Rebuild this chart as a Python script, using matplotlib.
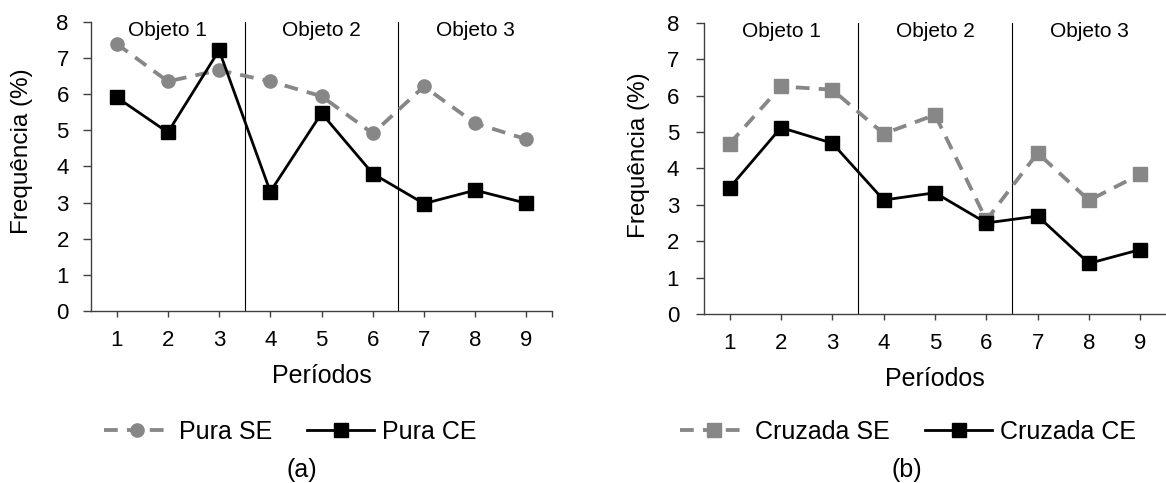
import matplotlib
matplotlib.use('Agg')
import matplotlib.pyplot as plt

plt.rcParams['font.family'] = ['Liberation Sans', 'DejaVu Sans']

periodos = [1, 2, 3, 4, 5, 6, 7, 8, 9]
objetos = ['Objeto 1', 'Objeto 2', 'Objeto 3']

pura_se = [7.39, 6.35, 6.66, 6.35, 5.94, 4.91, 6.21, 5.19, 4.75]
pura_ce = [5.91, 4.94, 7.21, 3.30, 5.47, 3.80, 2.97, 3.34, 2.98]

cruzada_se = [4.68, 6.25, 6.16, 4.95, 5.47, 2.58, 4.42, 3.12, 3.84]
cruzada_ce = [3.47, 5.12, 4.69, 3.13, 3.33, 2.50, 2.69, 1.39, 1.77]

GRAY = '#878787'
AXC = '#404040'

fig = plt.figure(figsize=(11.66, 4.83), dpi=100)
ax1 = fig.add_axes([0.0781, 0.3561, 0.3953, 0.5989])
ax2 = fig.add_axes([0.6038, 0.3499, 0.3962, 0.6031])


def draw_panel(ax, se, ce, se_label, ce_label, se_marker, ypad, ylab_xy, legend_x, tag, tag_x):
    ax.plot(periodos, se, color=GRAY, lw=2.75, dashes=(3.6, 2.4),
            marker=se_marker, ms=9.5, mec=GRAY, mfc=GRAY, label=se_label, zorder=3)
    ax.plot(periodos, ce, color='black', lw=2.0,
            marker='s', ms=9.5, mec='black', mfc='black', label=ce_label, zorder=4)

    ax.axvline(3.5, color='black', lw=0.8, zorder=2)
    ax.axvline(6.5, color='black', lw=0.8, zorder=2)
    for i, nome in enumerate(objetos):
        ax.text(2 + 3 * i, 7.75, nome, ha='center', va='center', fontsize=15)

    ax.set_xlim(0.5, 9.5)
    ax.set_ylim(0, 8)
    ax.set_xticks(periodos)
    ax.set_yticks(range(0, 9))
    ax.spines['top'].set_visible(False)
    ax.spines['right'].set_visible(False)
    for s in ['left', 'bottom']:
        ax.spines[s].set_color(AXC)
        ax.spines[s].set_linewidth(1.0)
    ax.tick_params(axis='y', length=6, width=1.0, color=AXC, pad=ypad, labelsize=16)
    ax.tick_params(axis='x', length=4, width=1.0, color=AXC, pad=10, labelsize=16)
    ax.set_xlabel('Períodos', fontsize=18, labelpad=9)
    fig.text(ylab_xy[0] / 1166, 1 - ylab_xy[1] / 483, 'Frequência (%)', rotation=90,
             ha='center', va='center', fontsize=17.5)

    ax.legend(loc='center', bbox_to_anchor=(legend_x, 1 - 432 / 483),
              bbox_transform=fig.transFigure, ncol=2, frameon=False,
              fontsize=18, handlelength=2.7, handletextpad=0.3,
              columnspacing=1.4, numpoints=1)
    fig.text(tag_x, 1 - 470 / 483, tag, ha='center', va='center', fontsize=18)


draw_panel(ax1, pura_se, pura_ce, 'Pura SE', 'Pura CE', 'o', 10, (22, 151),
           290 / 1166, '(a)', 302 / 1166)
ax1.set_xticks([9.5], minor=True)
ax1.tick_params(axis='x', which='minor', length=4, width=1.0, color=AXC)
draw_panel(ax2, cruzada_se, cruzada_ce, 'Cruzada SE', 'Cruzada CE', 's', 12, (639, 155),
           908 / 1166, '(b)', 907 / 1166)

fig.savefig('out.png', dpi=100)
